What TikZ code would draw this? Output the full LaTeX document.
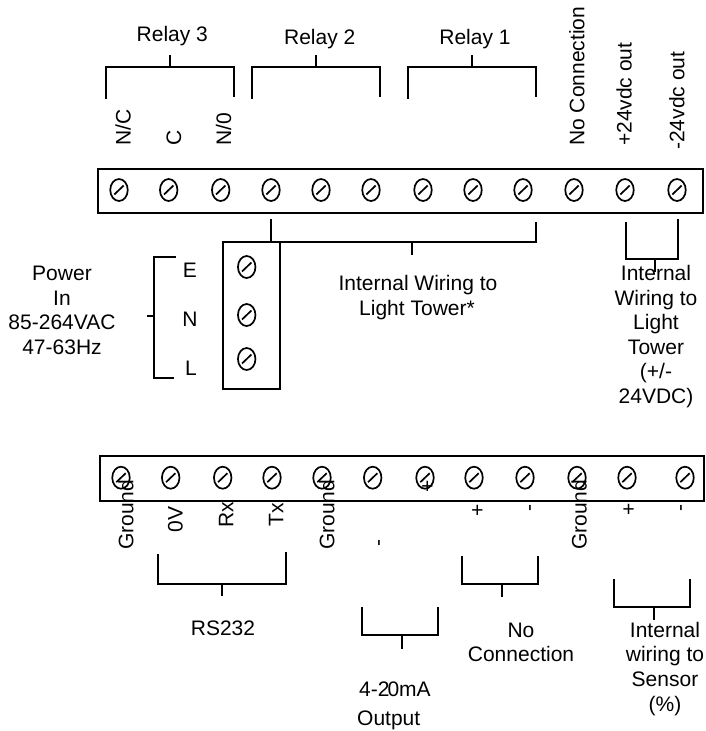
\documentclass[tikz,border=0pt]{standalone}
\usepackage{fontspec}
\setmainfont{Liberation Sans}
\usetikzlibrary{shapes.geometric}
\tikzset{
  wire/.style={line width=2pt,black,line cap=butt,line join=miter},
  strip/.style={draw=black,line width=2pt,fill=white},
  screw/.style={ellipse,draw=black,line width=1.7pt,minimum width=17.5pt,minimum height=22pt,inner sep=0pt},
  lbl/.style={inner sep=0pt,anchor=base,font=\fontsize{21}{24}\selectfont,text=black},
  vlbl/.style={inner sep=0pt,anchor=base west,rotate=90,font=\fontsize{21}{24}\selectfont,text=black}
}
\newcommand{\screwat}[3]{\node[screw] (#1) at (#2,#3) {};
  \draw[line width=1.7pt,black] ([xshift=-4.7pt,yshift=-4.5pt]#1.center) -- ([xshift=4.7pt,yshift=4.5pt]#1.center);}
\begin{document}
\begin{tikzpicture}[x=1pt,y=-1pt]
\useasboundingbox[fill=white] (0,0) rectangle (706,731);
% top strip
\draw[strip] (98,169) rectangle (703,213);
\foreach \n/\x in {1/119,2/168.7,3/220.7,4/271,5/321,6/371,7/423,8/473,9/523,10/574,11/625,12/677}
  {\screwat{t\n}{\x}{190}}
% power block
\draw[strip] (222.5,242) rectangle (280,389);
\screwat{p1}{246.7}{267}
\screwat{p2}{246.7}{315}
\screwat{p3}{246.7}{359}
% internal wiring
\draw[wire] (271,219) -- (271,242);
\draw[wire] (280,242) -- (536,242) -- (536,222);
\draw[wire] (411.7,242) -- (411.7,255);
% power bracket
\draw[wire] (176,257) -- (154,257) -- (154,378) -- (174,378);
\draw[wire] (147,316) -- (154,316);
% relay brackets
\draw[wire] (106,98.7) -- (106,67) -- (234,67) -- (234,96.7);
\draw[wire] (170.3,55) -- (170.3,67);
\draw[wire] (252.3,98.7) -- (252.3,67) -- (380.3,67) -- (380.3,96.7);
\draw[wire] (316.3,55) -- (316.3,67);
\draw[wire] (408,98.7) -- (408,67) -- (536,67) -- (536,96.7);
\draw[wire] (472,55) -- (472,67);
% 24V wiring
\draw[wire] (625.7,222) -- (625.7,259) -- (677.7,259) -- (677.7,219);
\draw[wire] (655,259) -- (655,272);
% bottom strip
\draw[strip] (100,456) rectangle (704,501);
\foreach \n/\x in {1/121,2/170.7,3/222.7,4/272,5/322,6/372.7,7/425,8/474,9/525,10/577,11/627,12/685}
  {\screwat{b\n}{\x}{477.7}}
% bottom brackets
\draw[wire] (158,554) -- (158,584) -- (286,584) -- (286,552);
\draw[wire] (222,584) -- (222,596);
\draw[wire] (362,607) -- (362,635) -- (438,635) -- (438,607);
\draw[wire] (402,635) -- (402,649);
\draw[wire] (462,556) -- (462,584) -- (538,584) -- (538,556);
\draw[wire] (502,584) -- (502,597);
\draw[wire] (614,579) -- (614,607) -- (690,607) -- (690,579);
\draw[wire] (654,607) -- (654,620);
% top labels
\node[lbl] (r3) at (172.3,41) {Relay 3};
\node[lbl] (r2) at (319.7,44) {Relay 2};
\node[lbl] (r1) at (475,44) {Relay 1};
\node[vlbl] (nc) at (130.7,146) {N/C};
\node[vlbl] (c) at (181,146) {C};
\node[vlbl] (no) at (231,146) {N/0};
\node[vlbl] (ncon) at (584.3,146) {No Connection};
\node[vlbl] (p24) at (631.7,146) {+24vdc out};
\node[vlbl] (m24) at (684.3,150) {-24vdc out};
% power labels
\node[lbl] (pw1) at (62,280.7) {Power};
\node[lbl] (pw2) at (62,305) {In};
\node[lbl] (pw3) at (62,329) {85-264VAC};
\node[lbl] (pw4) at (62,354) {47-63Hz};
\node[lbl] (e) at (190,277) {E};
\node[lbl] (n) at (190,326) {N};
\node[lbl] (l) at (191,375) {L};
% internal wiring labels
\node[lbl] (iw1) at (418,290.7) {Internal Wiring to};
\node[lbl] (iw2) at (417,315) {Light Tower*};
\node[lbl] (d1) at (656,280) {Internal};
\node[lbl] (d2) at (656,305) {Wiring to};
\node[lbl] (d3) at (656,329) {Light};
\node[lbl] (d4) at (656,354) {Tower};
\node[lbl] (d5) at (656,378) {(+/-};
\node[lbl] (d6) at (656,403) {24VDC)};
% bottom rotated labels
\node[vlbl] (g1) at (133.3,550) {Ground};
\node[vlbl] (ov) at (182.7,532.7) {0V};
\node[vlbl] (rx) at (233.3,527.7) {Rx};
\node[vlbl] (tx) at (283.3,526.7) {Tx};
\node[vlbl] (g2) at (334.3,550) {Ground};
\node[vlbl] (mi1) at (384.6,547) {-};
\node[vlbl] (pl1) at (434.4,493) {+};
\node[vlbl] (pl2) at (484.4,516.6) {+};
\node[vlbl] (mi2) at (535.6,511.2) {-};
\node[vlbl] (g3) at (586.7,550) {Ground};
\node[vlbl] (pl3) at (635.7,515.4) {+};
\node[vlbl] (mi3) at (686.6,511.2) {-};
% bottom labels
\node[lbl] (rs) at (223,635.7) {RS232};
\node[lbl,anchor=base west] (ma) at (359,696) {4-2\kern-2pt 0mA};
\node[lbl,anchor=base west] (ou) at (357,725) {Output};
\node[lbl] (nc1) at (521,637.7) {No};
\node[lbl] (nc2) at (521,661.7) {Connection};
\node[lbl] (s1) at (665,637) {Internal};
\node[lbl] (s2) at (665,661.7) {wiring to};
\node[lbl] (s3) at (665,686.7) {Sensor};
\node[lbl] (s4) at (665,711) {(\%)};
\end{tikzpicture}
\end{document}
